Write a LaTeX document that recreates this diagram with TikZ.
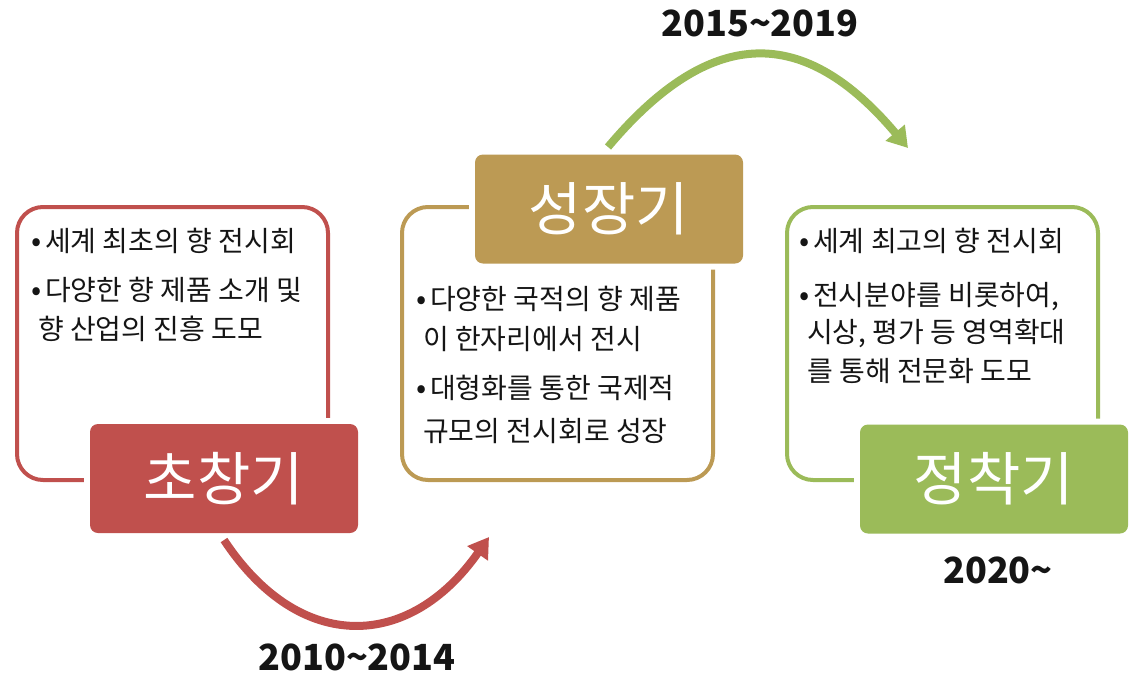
\documentclass[tikz,border=0pt]{standalone}
\usepackage{fontspec}
\setmainfont{Noto Sans CJK KR}
\usetikzlibrary{arrows.meta}
\definecolor{cred}{HTML}{C0504D}
\definecolor{cgold}{HTML}{BC9A54}
\definecolor{cgreen}{HTML}{9BBB59}
\definecolor{ctext}{HTML}{151515}
\tikzset{
  outbox/.style={draw=#1, line width=4pt, rounded corners=26pt},
  stagebox/.style={fill=#1, rounded corners=8pt, inner sep=0, minimum width=268pt, minimum height=109pt,
     preaction={draw=white, line width=12pt, rounded corners=8pt},
     text=white, font=\fontsize{58}{60}\selectfont},
  bodytxt/.style={anchor=base west, inner sep=0, text=ctext, font=\fontsize{28}{30}\selectfont},
  yeartxt/.style={inner sep=0, text=ctext, font=\bfseries\fontsize{36}{38}\selectfont},
  arc/.style={draw=#1, line width=8pt, -{Triangle[length=20pt,width=24pt]}},
}
\newcommand{\bul}{\llap{\fontsize{30}{30}\selectfont•\hspace{4pt}}}
\begin{document}
\begin{tikzpicture}[x=1pt,y=-1pt]
\useasboundingbox (0,0) rectangle (1134,680);
% outlines
\draw[outbox=cred] (17,207) rectangle (328,480);
\draw[outbox=cgold] (402,207) rectangle (713,480);
\draw[outbox=cgreen] (787,207) rectangle (1098,480);
% stage boxes
\node[stagebox=cred] (rbox) at (224,478.5) {초창기};
\node[stagebox=cgold] (gbox) at (609,209) {성장기};
\node[stagebox=cgreen] (nbox) at (994,479) {정착기};
% red text
\node[bodytxt] (r1) at (45,251) {\bul 세계 최초의 향 전시회};
\node[bodytxt] (r2) at (45,300) {\bul 다양한 향 제품 소개 및};
\node[bodytxt] (r3) at (38,339) {향 산업의 진흥 도모};
% gold text
\node[bodytxt] (g1) at (430,309) {\bul 다양한 국적의 향 제품};
\node[bodytxt] (g2) at (423,349) {이 한자리에서 전시};
\node[bodytxt] (g3) at (430,398) {\bul 대형화를 통한 국제적};
\node[bodytxt] (g4) at (423,441) {규모의 전시회로 성장};
% green text
\node[bodytxt] (n1) at (813,251) {\bul 세계 최고의 향 전시회};
\node[bodytxt] (n2) at (813,305) {\bul 전시분야를 비롯하여,};
\node[bodytxt] (n3) at (807,342) {시상, 평가 등 영역확대};
\node[bodytxt] (n4) at (807,381) {를 통해 전문화 도모};
% arrows
\coordinate (a1s) at (224,540);
\coordinate (a1e) at (489,537);
\coordinate (a2s) at (608,147);
\coordinate (a2e) at (908,148);
\draw[arc=cred] (a1s) .. controls (300,655) and (410,650) .. (a1e);
\draw[arc=cgreen] (a2s) .. controls (711.5,24) and (804.5,25) .. (a2e);
% years
\node[yeartxt] (y1) at (357,657) {2010\textasciitilde2014};
\node[yeartxt] (y2) at (760,23) {2015\textasciitilde2019};
\node[yeartxt] (y3) at (998,570) {2020\textasciitilde};
\end{tikzpicture}
\end{document}
